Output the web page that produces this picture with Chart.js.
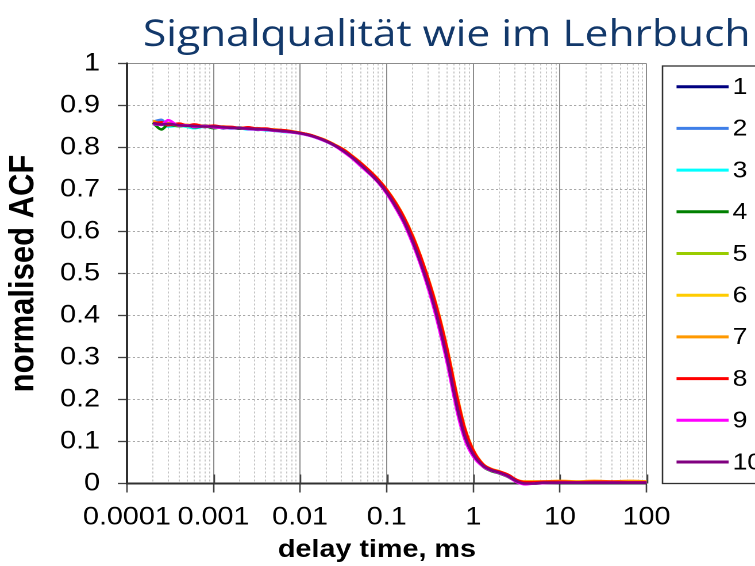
<!DOCTYPE html>
<html>
<head>
<meta charset="utf-8">
<script src="https://cdn.jsdelivr.net/npm/chart.js@4.4.1/dist/chart.umd.min.js"></script>
<style>
  html, body { margin: 0; padding: 0; background: #fff; overflow: hidden; }
  #wrap { width: 657px; height: 566px; transform: scaleX(1.1492); transform-origin: 0 0; }
</style>
</head>
<body>
<div id="wrap"><canvas id="acf" width="657" height="566"></canvas></div>
<script>
// Delay times (ms) shared by all runs
const delayTimes = [
  0.0002, 0.00025, 0.0003, 0.0004, 0.0005, 0.0006, 0.0008, 0.001, 0.0013, 0.0016,
  0.002, 0.0025, 0.0032, 0.004, 0.005, 0.0065, 0.008, 0.01, 0.013, 0.016,
  0.02, 0.025, 0.032, 0.04, 0.05, 0.065, 0.08, 0.1, 0.13, 0.16,
  0.2, 0.25, 0.32, 0.4, 0.5, 0.65, 0.8, 1, 1.3, 1.6,
  2, 2.5, 3.2, 4, 5, 6.5, 10, 16, 25, 40,
  65, 100, 3000
];

// Normalised autocorrelation of each measurement run
const run1 = [
  0.857,0.855,0.853,0.854,0.850,0.852,0.849,0.850,0.846,0.848,
  0.845,0.846,0.842,0.844,0.840,0.839,0.836,0.834,0.829,0.823,
  0.815,0.805,0.792,0.777,0.760,0.739,0.720,0.695,0.659,0.625,
  0.580,0.527,0.459,0.387,0.303,0.190,0.118,0.072,0.043,0.033,
  0.027,0.019,0.006,0.001,0.001,0.002,0.003,0.002,0.003,0.002,
  0.003,0.002,0.001];
const run2 = [
  0.861,0.866,0.852,0.856,0.851,0.849,0.853,0.848,0.850,0.846,
  0.848,0.844,0.846,0.842,0.842,0.838,0.838,0.833,0.830,0.822,
  0.816,0.806,0.792,0.778,0.761,0.740,0.721,0.696,0.660,0.626,
  0.581,0.529,0.461,0.389,0.306,0.193,0.120,0.073,0.043,0.033,
  0.027,0.019,0.006,0.001,0.002,0.002,0.003,0.003,0.002,0.003,
  0.002,0.003,0.001];
const run3 = [
  0.855,0.857,0.850,0.852,0.849,0.846,0.850,0.847,0.848,0.845,
  0.846,0.843,0.843,0.841,0.840,0.837,0.836,0.833,0.828,0.822,
  0.814,0.804,0.791,0.776,0.759,0.738,0.719,0.694,0.657,0.623,
  0.578,0.524,0.456,0.383,0.299,0.185,0.115,0.070,0.042,0.032,
  0.026,0.018,0.005,-0.001,0.000,0.002,0.002,0.002,0.003,0.002,
  0.002,0.002,0.001];
const run4 = [
  0.859,0.843,0.854,0.851,0.853,0.848,0.851,0.846,0.849,0.847,
  0.845,0.846,0.843,0.843,0.841,0.838,0.837,0.834,0.829,0.823,
  0.815,0.805,0.792,0.777,0.760,0.739,0.720,0.695,0.659,0.625,
  0.580,0.527,0.459,0.387,0.303,0.190,0.117,0.071,0.040,0.030,
  0.024,0.016,0.004,0.000,0.000,0.001,0.002,0.002,0.002,0.002,
  0.003,0.002,0.001];
const run5 = [
  0.862,0.856,0.857,0.852,0.853,0.850,0.851,0.849,0.848,0.848,
  0.846,0.845,0.845,0.843,0.842,0.840,0.838,0.835,0.830,0.824,
  0.816,0.806,0.793,0.778,0.761,0.740,0.721,0.696,0.661,0.627,
  0.582,0.530,0.462,0.391,0.307,0.195,0.122,0.074,0.044,0.033,
  0.027,0.020,0.006,0.000,0.001,0.002,0.003,0.002,0.003,0.003,
  0.002,0.002,0.001];
const run6 = [
  0.860,0.858,0.854,0.855,0.851,0.852,0.850,0.850,0.849,0.847,
  0.847,0.846,0.844,0.844,0.842,0.840,0.838,0.835,0.830,0.824,
  0.816,0.806,0.793,0.779,0.762,0.741,0.722,0.698,0.662,0.629,
  0.585,0.533,0.466,0.395,0.312,0.200,0.125,0.076,0.045,0.034,
  0.028,0.020,0.007,0.003,0.003,0.004,0.004,0.003,0.004,0.003,
  0.003,0.003,0.001];
const run7 = [
  0.863,0.857,0.858,0.853,0.854,0.850,0.852,0.849,0.850,0.848,
  0.847,0.847,0.845,0.844,0.843,0.841,0.839,0.835,0.830,0.824,
  0.817,0.807,0.795,0.780,0.764,0.743,0.724,0.700,0.666,0.633,
  0.590,0.538,0.472,0.403,0.321,0.209,0.132,0.080,0.046,0.035,
  0.029,0.021,0.008,0.005,0.005,0.005,0.006,0.005,0.006,0.005,
  0.006,0.005,0.002];
const run8 = [
  0.857,0.860,0.853,0.857,0.852,0.855,0.850,0.852,0.849,0.849,
  0.846,0.848,0.845,0.845,0.842,0.841,0.838,0.835,0.830,0.824,
  0.816,0.806,0.794,0.779,0.763,0.742,0.723,0.699,0.664,0.631,
  0.587,0.536,0.469,0.399,0.317,0.204,0.129,0.078,0.045,0.034,
  0.028,0.021,0.008,0.003,0.003,0.004,0.004,0.003,0.004,0.004,
  0.003,0.003,0.001];
const run9 = [
  0.856,0.854,0.865,0.852,0.853,0.849,0.851,0.848,0.847,0.846,
  0.846,0.844,0.843,0.842,0.840,0.838,0.836,0.833,0.828,0.822,
  0.814,0.804,0.789,0.774,0.756,0.735,0.716,0.690,0.652,0.617,
  0.570,0.516,0.446,0.371,0.285,0.171,0.104,0.064,0.040,0.031,
  0.025,0.017,0.003,-0.002,0.000,0.001,0.002,0.002,0.002,0.002,
  0.002,0.002,0.001];
const run10 = [
  0.858,0.855,0.856,0.853,0.852,0.851,0.850,0.850,0.848,0.847,
  0.846,0.845,0.844,0.843,0.841,0.839,0.837,0.834,0.829,0.823,
  0.815,0.805,0.791,0.776,0.759,0.737,0.718,0.693,0.656,0.622,
  0.576,0.522,0.454,0.381,0.296,0.182,0.112,0.069,0.042,0.032,
  0.026,0.018,0.005,0.000,0.000,0.002,0.002,0.002,0.002,0.002,
  0.002,0.002,0.001];

const runs = [run1, run2, run3, run4, run5, run6, run7, run8, run9, run10];
const runLabels = ['1', '2', '3', '4', '5', '6', '7', '8', '9', '10'];
const runColors = ['#000080', '#3f7fe8', '#00ffff', '#008000', '#99cc00',
                   '#ffcc00', '#ff9900', '#ff0000', '#ff00ff', '#800080'];

// Axis ticks
const xDecades = [0.0001, 0.001, 0.01, 0.1, 1, 10, 100];
const xTickLabels = ['0.0001', '0.001', '0.01', '0.1', '1', '10', '100'];
const xMinorSteps = [2, 3, 4, 5, 6, 7, 8, 9];
const yTickValues = [0, 0.1, 0.2, 0.3, 0.4, 0.5, 0.6, 0.7, 0.8, 0.9, 1];
const yTickLabels = ['0', '0.1', '0.2', '0.3', '0.4', '0.5', '0.6', '0.7', '0.8', '0.9', '1'];

const chartTitle = 'Signalqualität wie im Lehrbuch';
const xAxisTitle = 'delay time, ms';
const yAxisTitle = 'normalised ACF';

const isDecade = v => xDecades.some(d => Math.abs(d - v) / d < 1e-6);

// every value of the log grid: decades plus 2..9 within each decade
const xGridValues = [];
xDecades.forEach((d, i) => {
  xGridValues.push(d);
  if (i < xDecades.length - 1) xMinorSteps.forEach(m => xGridValues.push(+(d * m).toPrecision(6)));
});

Chart.defaults.font.family = '"Liberation Sans", Arial, sans-serif';
Chart.defaults.color = '#000';

// Framed legend at the right, drawn underneath the curves
const legendBox = {
  id: 'legendBox',
  beforeDatasetsDraw(chart) {
    const ctx = chart.ctx;
    ctx.save();
    ctx.fillStyle = '#fff';
    ctx.strokeStyle = '#303030';
    ctx.lineWidth = 1.3;
    ctx.fillRect(576.5, 66, 140, 417.5);
    ctx.strokeRect(576.5, 66, 140, 417.5);
    ctx.font = '23px "Liberation Sans", Arial, sans-serif';
    ctx.textBaseline = 'middle';
    ctx.textAlign = 'left';
    chart.data.datasets.forEach((ds, i) => {
      const y = 86.7 + i * 41.7;
      ctx.strokeStyle = ds.borderColor;
      ctx.lineWidth = 3;
      ctx.beginPath();
      ctx.moveTo(588.7, y);
      ctx.lineTo(634, y);
      ctx.stroke();
      ctx.fillStyle = '#000';
      ctx.fillText(ds.label, 637.5, y + 1);
    });
    ctx.restore();
  }
};

// Major x tick marks cross the axis line
const crossTicks = {
  id: 'crossTicks',
  beforeDatasetsDraw(chart) {
    const {ctx, chartArea} = chart;
    const xs = chart.scales.x;
    ctx.save();
    ctx.strokeStyle = '#404040';
    ctx.lineWidth = 1.3;
    xDecades.slice(1).forEach(v => {
      const px = Math.round(xs.getPixelForValue(v)) + 0.5;
      ctx.beginPath();
      ctx.moveTo(px, chartArea.bottom);
      ctx.lineTo(px, chartArea.bottom - 9);
      ctx.stroke();
    });
    ctx.restore();
  }
};

// Chart heading and the x axis caption
const captions = {
  id: 'captions',
  afterDraw(chart) {
    const ctx = chart.ctx;
    ctx.save();
    ctx.font = '37px "Open Sans", sans-serif';
    ctx.fillStyle = '#12386a';
    ctx.textAlign = 'center';
    ctx.textBaseline = 'alphabetic';
    ctx.fillText(chartTitle, 388.7, 46);
    ctx.font = 'bold 25px "Liberation Sans", Arial, sans-serif';
    ctx.fillStyle = '#000';
    ctx.fillText(xAxisTitle, 328, 557);
    ctx.restore();
  }
};

new Chart(document.getElementById('acf'), {
  type: 'line',
  data: {
    datasets: runs.map((run, i) => ({
      label: runLabels[i],
      data: delayTimes.map((t, k) => ({x: t, y: run[k]})),
      borderColor: runColors[i],
      backgroundColor: runColors[i],
      borderWidth: 2.6,
      pointRadius: 0,
      fill: false,
      cubicInterpolationMode: 'monotone',
      clip: false,
      order: runs.length - i
    }))
  },
  options: {
    responsive: false,
    devicePixelRatio: 2,
    animation: false,
    layout: { padding: { left: 0, top: 63.5, right: 94.4, bottom: 0 } },
    plugins: { legend: { display: false }, title: { display: false }, tooltip: { enabled: false } },
    scales: {
      x: {
        type: 'logarithmic',
        min: 0.0001,
        max: 100,
        afterBuildTicks: s => { s.ticks = xGridValues.map(v => ({value: v, major: isDecade(v)})); },
        afterFit: s => { s.height = 82.5; },
        ticks: {
          autoSkip: false,
          maxRotation: 0,
          padding: 10,
          font: { size: 25 },
          callback: v => { const i = xDecades.findIndex(d => Math.abs(d - v) / d < 1e-6); return i >= 0 ? xTickLabels[i] : ''; }
        },
        grid: {
          color: c => (c.tick && isDecade(c.tick.value)) ? '#8c8c8c' : '#c4c4c4',
          lineWidth: 1,
          tickLength: 9,
          tickWidth: 1.3,
          tickColor: c => (c.tick && isDecade(c.tick.value)) ? '#404040' : 'rgba(0,0,0,0)'
        },
        border: {
          display: true,
          color: '#303030',
          width: 2,
          dash: c => (c.tick && !isDecade(c.tick.value)) ? [2, 2] : []
        },
        title: { display: false }
      },
      y: {
        type: 'linear',
        min: 0,
        max: 1,
        afterBuildTicks: s => { s.ticks = yTickValues.map(v => ({value: v})); },
        afterFit: s => { s.width = 110.4; },
        ticks: {
          padding: 15.6,
          font: { size: 25 },
          callback: v => { const i = yTickValues.findIndex(t => Math.abs(t - v) < 1e-9); return i >= 0 ? yTickLabels[i] : ''; }
        },
        grid: {
          color: c => (c.tick && c.tick.value === 1) ? '#8c8c8c' : '#a8a8a8',
          lineWidth: 1,
          tickLength: 7.8,
          tickWidth: 1.3,
          tickColor: '#404040'
        },
        border: {
          display: true,
          color: '#303030',
          width: 2,
          dash: c => (c.tick && c.tick.value > 0 && c.tick.value < 1) ? [2, 2] : []
        },
        title: {
          display: true,
          text: yAxisTitle,
          font: { size: 31, weight: 'bold' },
          padding: { top: 2, bottom: 0 }
        }
      }
    }
  },
  plugins: [legendBox, crossTicks, captions]
});
</script>
</body>
</html>
